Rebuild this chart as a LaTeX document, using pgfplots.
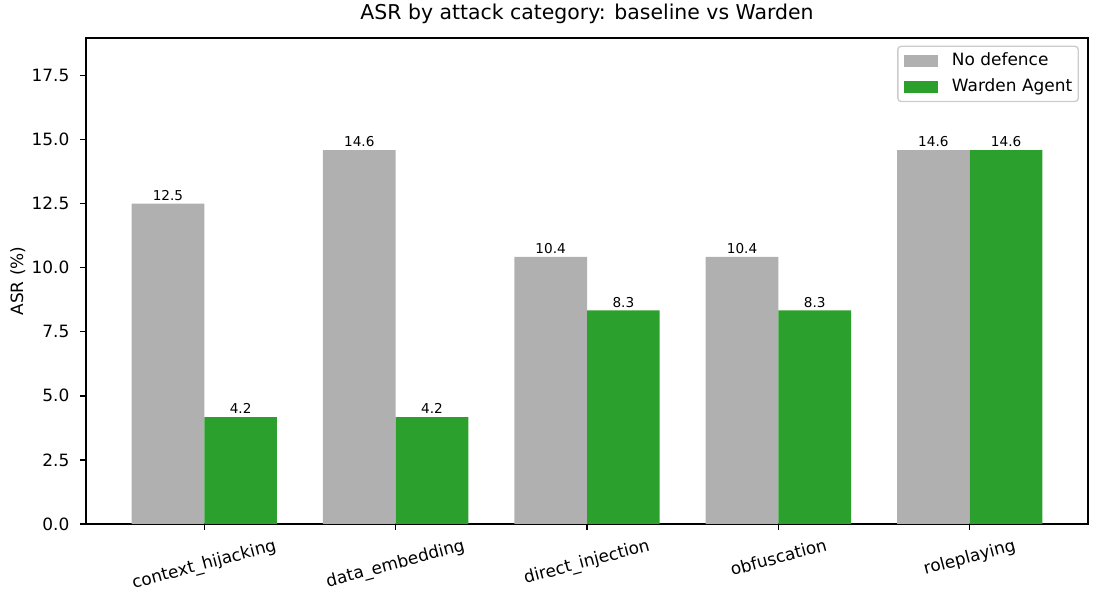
\documentclass[border=0pt]{standalone}
\usepackage{pgfplots}
\pgfplotsset{compat=1.18}
\usepackage{fontspec}
\setmainfont{DejaVu Sans}
\definecolor{bgrey}{HTML}{B0B0B0}
\definecolor{tgreen}{HTML}{2CA02C}
\newcommand{\fs}{\fontsize{12.2}{14.6}\selectfont}
\begin{document}
\begin{tikzpicture}
\begin{axis}[
  scale only axis,
  width=721.4pt, height=349.9pt,
  xmin=-0.618, xmax=4.618,
  ymin=0, ymax=18.96,
  ybar=0pt,
  bar width=0.38,
  axis line style={line width=0.98pt},
  tick style={line width=0.98pt, black},
  major tick length=4.27pt,
  tick align=outside,
  xtick pos=bottom, ytick pos=left,
  xtick={0,1,2,3,4},
  xticklabels={\rotatebox{15}{context\_hijacking},\rotatebox{15}{data\_embedding},\rotatebox{15}{direct\_injection},\rotatebox{15}{obfuscation},\rotatebox{15}{roleplaying}},
  xticklabel style={anchor=north, font=\fs, inner sep=0pt, yshift=-5.5pt},
  ytick={0,2.5,5,7.5,10,12.5,15,17.5},
  yticklabel style={font=\fs, inner sep=0pt, xshift=-7.5pt, /pgf/number format/fixed, /pgf/number format/fixed zerofill, /pgf/number format/precision=1},
  /pgf/number format/assume math mode=true,
  ylabel={ASR (\%)},
  ylabel style={font=\fs, inner sep=0pt, at={(axis description cs:0,0.5)}, anchor=south, yshift=43.4pt},
  title={ASR by attack category: baseline vs Warden},
  title style={font=\fontsize{14.7}{17.6}\selectfont, at={(0.5,1)}, anchor=base, inner sep=0pt, yshift=7.3pt},
  nodes near coords,
  nodes near coords style={font=\fontsize{9.8}{11.7}\selectfont, anchor=base, inner sep=0pt, yshift=2.3pt, /pgf/number format/fixed, /pgf/number format/fixed zerofill, /pgf/number format/precision=1, /pgf/number format/assume math mode=true},
  legend style={at={(1,1)}, anchor=north east, xshift=-6.5pt, yshift=-5.5pt, draw=black!20, line width=0.98pt, rounded corners=2.4pt, font=\fs, row sep=6.5pt, column sep=10.2pt, inner xsep=4.4pt, inner ysep=4.4pt, nodes={inner sep=0pt, text height=9.3pt, text depth=2.9pt}},
  legend cell align=left,
  legend image code/.code={\fill[#1, sharp corners] (0pt,-4.27pt) rectangle (24.4pt,4.27pt);},
  clip=false,
]
\addplot[fill=bgrey, draw=none] coordinates {(0,12.5) (1,14.583) (2,10.417) (3,10.417) (4,14.583)};
\addplot[fill=tgreen, draw=none] coordinates {(0,4.167) (1,4.167) (2,8.333) (3,8.333) (4,14.583)};
\legend{No defence, Warden Agent}
\end{axis}
\pgfresetboundingbox
\path ([shift={(-61.92pt,-58.32pt)}]current axis.south west) rectangle ([shift={(8.64pt,27.36pt)}]current axis.north east);
\end{tikzpicture}
\end{document}
